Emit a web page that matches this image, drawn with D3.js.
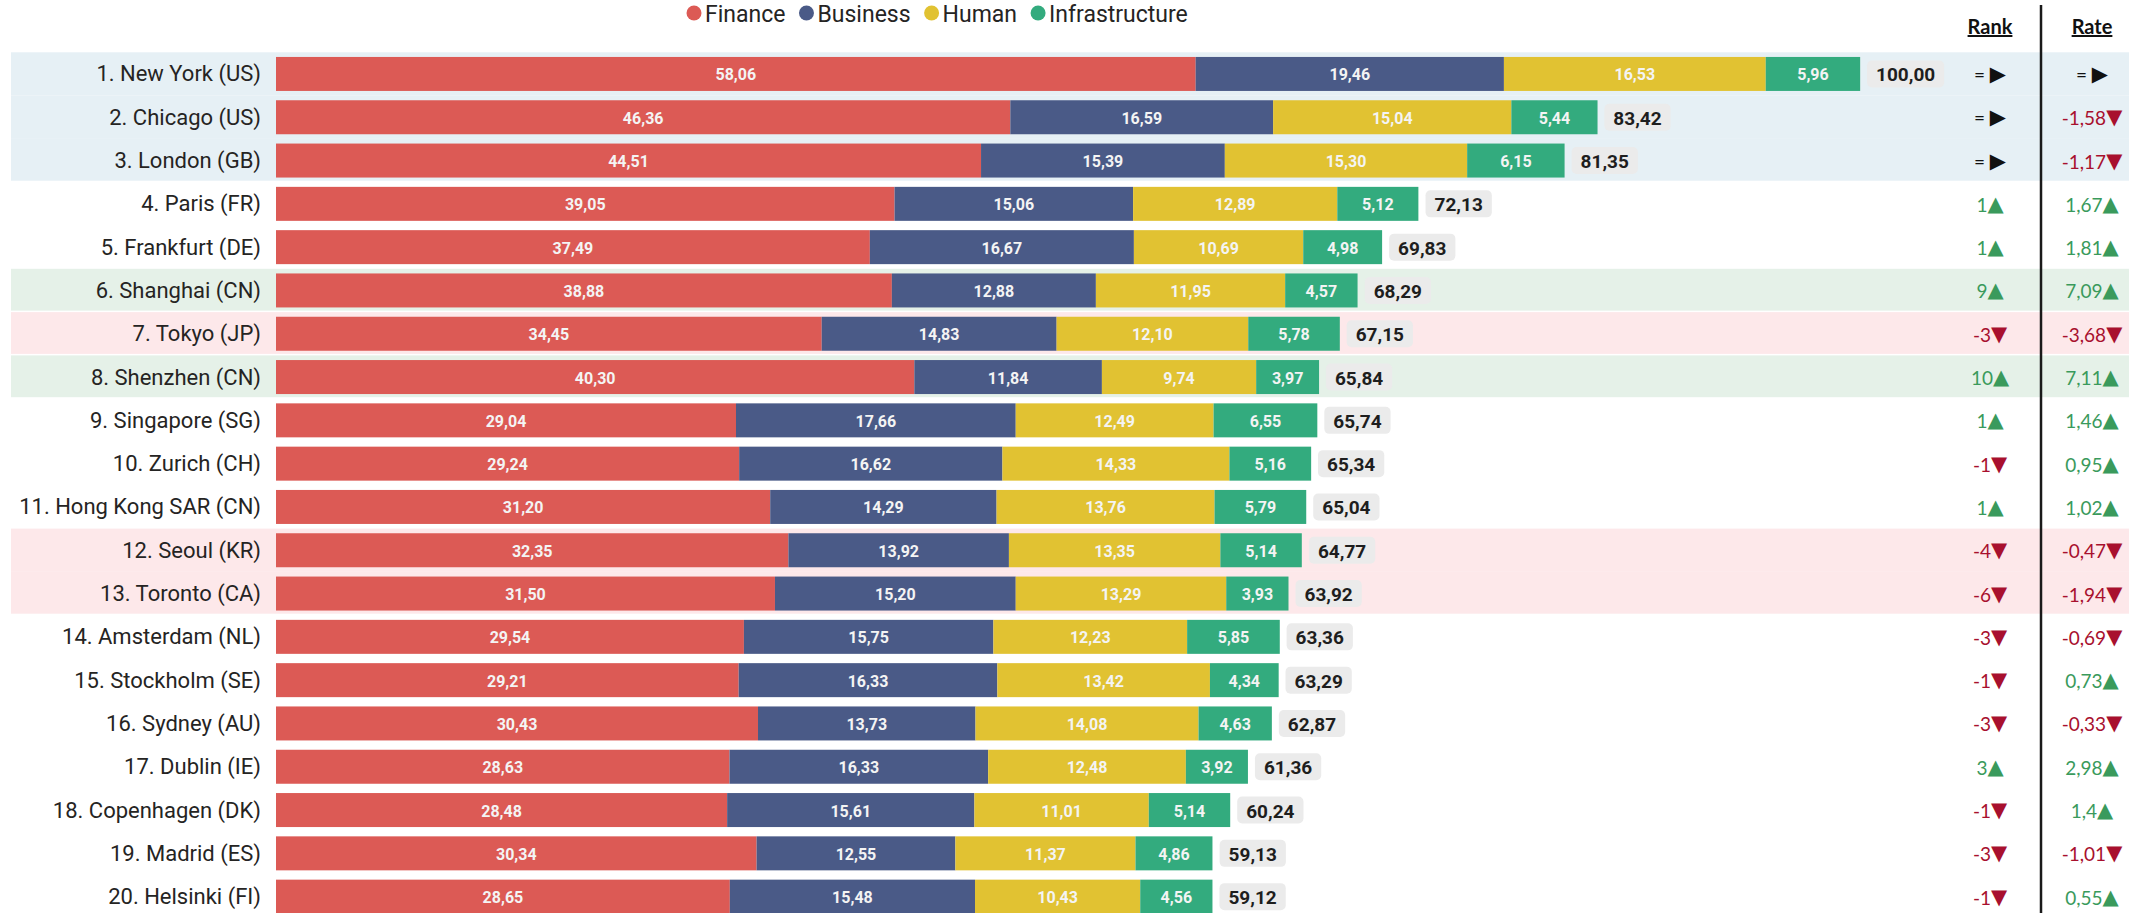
<!DOCTYPE html>
<html>
<head>
<meta charset="utf-8">
<script src="https://cdn.jsdelivr.net/npm/d3@7"></script>
<style>
  body { margin: 0; background: #fff; }
  svg { display: block; }
  .city { font-family: Roboto, sans-serif; font-size: 22px; fill: #252423; }
  .seg { font-family: Roboto, sans-serif; font-size: 16px; font-weight: 700; fill: #f4f4f4; }
  .total { font-family: Roboto, sans-serif; font-size: 19px; font-weight: 700; fill: #1e1e1e; }
  .legend { font-family: Roboto, sans-serif; font-size: 23px; fill: #252423; }
  .head { font-family: Lato, sans-serif; font-size: 20px; font-weight: 700; fill: #111; text-decoration: underline; }
  .chg { font-family: Lato, sans-serif; font-size: 19px; }
</style>
</head>
<body>
<div id="chart"></div>
<script>
var cities = ["1. New York (US)", "2. Chicago (US)", "3. London (GB)", "4. Paris (FR)", "5. Frankfurt (DE)",
  "6. Shanghai (CN)", "7. Tokyo (JP)", "8. Shenzhen (CN)", "9. Singapore (SG)", "10. Zurich (CH)",
  "11. Hong Kong SAR (CN)", "12. Seoul (KR)", "13. Toronto (CA)", "14. Amsterdam (NL)", "15. Stockholm (SE)",
  "16. Sydney (AU)", "17. Dublin (IE)", "18. Copenhagen (DK)", "19. Madrid (ES)", "20. Helsinki (FI)"];

var finance = [58.06, 46.36, 44.51, 39.05, 37.49, 38.88, 34.45, 40.30, 29.04, 29.24, 31.20, 32.35, 31.50, 29.54, 29.21, 30.43, 28.63, 28.48, 30.34, 28.65];
var business = [19.46, 16.59, 15.39, 15.06, 16.67, 12.88, 14.83, 11.84, 17.66, 16.62, 14.29, 13.92, 15.20, 15.75, 16.33, 13.73, 16.33, 15.61, 12.55, 15.48];
var human = [16.53, 15.04, 15.30, 12.89, 10.69, 11.95, 12.10, 9.74, 12.49, 14.33, 13.76, 13.35, 13.29, 12.23, 13.42, 14.08, 12.48, 11.01, 11.37, 10.43];
var infrastructure = [5.96, 5.44, 6.15, 5.12, 4.98, 4.57, 5.78, 3.97, 6.55, 5.16, 5.79, 5.14, 3.93, 5.85, 4.34, 4.63, 3.92, 5.14, 4.86, 4.56];
var totals = [100.00, 83.42, 81.35, 72.13, 69.83, 68.29, 67.15, 65.84, 65.74, 65.34, 65.04, 64.77, 63.92, 63.36, 63.29, 62.87, 61.36, 60.24, 59.13, 59.12];

// 0 = unchanged
var rankChange = [0, 0, 0, 1, 1, 9, -3, 10, 1, -1, 1, -4, -6, -3, -1, -3, 3, -1, -3, -1];
var rateChange = [0, -1.58, -1.17, 1.67, 1.81, 7.09, -3.68, 7.11, 1.46, 0.95, 1.02, -0.47, -1.94, -0.69, 0.73, -0.33, 2.98, 1.4, -1.01, 0.55];

// row highlight: top3 / up / down
var highlight = ["top", "top", "top", "", "", "up", "down", "up", "", "", "", "down", "down", "", "", "", "", "", "", ""];

var seriesNames = ["Finance", "Business", "Human", "Infrastructure"];
var seriesColors = ["#dc5a55", "#4a5a87", "#e1c232", "#33ab7e"];
var bandColors = { top: "#e6f0f5", up: "#e5f1e8", down: "#fde8ea" };

var W = 2129, H = 913;
var svg = d3.select("#chart").append("svg").attr("width", W).attr("height", H);

var loc = d3.formatLocale({ decimal: ",", thousands: ".", grouping: [3], currency: ["", ""] });
var f2 = loc.format(".2f");

var rows = cities.map(function(c, i) {
  return { city: c, vals: [finance[i], business[i], human[i], infrastructure[i]], total: totals[i],
           rank: rankChange[i], rate: rateChange[i], hl: highlight[i] };
});

var x = d3.scaleLinear().domain([0, 100]).range([276, 1860]);
var rowBand = d3.scaleBand().domain(cities).range([52.3, 52.3 + 43.3 * 20]);
var y = d3.scaleBand().domain(cities).range([52.3, 52.3 + 43.3 * 20]).paddingInner(0.215).paddingOuter(0.1075);
var color = d3.scaleOrdinal().domain(seriesNames).range(seriesColors);

// row backgrounds
svg.append("g").selectAll("rect")
  .data(rows.filter(function(d) { return d.hl; }))
  .enter().append("rect")
    .attr("x", 11)
    .attr("y", function(d) { return rowBand(d.city); })
    .attr("width", W - 11)
    .attr("height", function(d) {
      var i = cities.indexOf(d.city);
      var next = highlight[i + 1];
      return rowBand.bandwidth() - (next === d.hl ? 0 : 1.5);
    })
    .attr("fill", function(d) { return bandColors[d.hl]; });

// stacked bars
var stackData = rows.map(function(d) {
  var o = { city: d.city };
  seriesNames.forEach(function(s, k) { o[s] = d.vals[k]; });
  return o;
});
var stacked = d3.stack().keys(seriesNames)(stackData);

var layer = svg.append("g").selectAll("g")
  .data(stacked)
  .enter().append("g")
    .attr("fill", function(d) { return color(d.key); });

layer.selectAll("rect")
  .data(function(d) { return d; })
  .enter().append("rect")
    .attr("x", function(d) { return x(d[0]); })
    .attr("y", function(d) { return y(d.data.city); })
    .attr("width", function(d) { return x(d[1]) - x(d[0]); })
    .attr("height", y.bandwidth());

layer.selectAll("text")
  .data(function(d) { return d; })
  .enter().append("text")
    .attr("class", "seg")
    .attr("text-anchor", "middle")
    .attr("dominant-baseline", "central")
    .attr("x", function(d) { return (x(d[0]) + x(d[1])) / 2; })
    .attr("y", function(d) { return y(d.data.city) + y.bandwidth() / 2 + 1; })
    .text(function(d) { return f2(d[1] - d[0]); });

// city labels
svg.append("g").selectAll("text")
  .data(rows)
  .enter().append("text")
    .attr("class", "city")
    .attr("text-anchor", "end")
    .attr("dominant-baseline", "central")
    .attr("x", 261)
    .attr("y", function(d) { return y(d.city) + y.bandwidth() / 2; })
    .text(function(d) { return d.city; });

// totals in grey boxes
var tot = svg.append("g").selectAll("g")
  .data(rows)
  .enter().append("g")
    .attr("transform", function(d) {
      var cy = y(d.city) + y.bandwidth() / 2;
      return "translate(" + (x(d.total) + 7) + "," + cy + ")";
    });
tot.append("text")
  .attr("class", "total")
  .attr("x", 9)
  .attr("dominant-baseline", "central")
  .attr("y", 1)
  .text(function(d) { return f2(d.total); });
tot.insert("rect", "text")
  .attr("x", 0)
  .attr("y", -13.5)
  .attr("height", 27)
  .attr("rx", 5)
  .attr("fill", "#ebebeb")
  .attr("width", function() { return this.parentNode.querySelector("text").getComputedTextLength() + 18; });

// legend
var leg = svg.append("g");
var lx = 686;
seriesNames.forEach(function(s) {
  leg.append("circle").attr("cx", lx + 8).attr("cy", 13).attr("r", 7.5).attr("fill", color(s));
  var t = leg.append("text").attr("class", "legend").attr("x", lx + 19).attr("y", 22).text(s);
  lx += 19 + t.node().getComputedTextLength() + 13;
});

// rank and rate columns
svg.append("text").attr("class", "head").attr("x", 1990).attr("y", 34).attr("text-anchor", "middle").text("Rank");
svg.append("text").attr("class", "head").attr("x", 2092).attr("y", 34).attr("text-anchor", "middle").text("Rate");
svg.append("line").attr("x1", 2041).attr("x2", 2041).attr("y1", 5).attr("y2", H)
  .attr("stroke", "#1a1a1a").attr("stroke-width", 2.5);

function changeCell(cx, getVal, fmt) {
  var t = svg.append("g").selectAll("text")
    .data(rows)
    .enter().append("text")
      .attr("class", "chg")
      .attr("text-anchor", "middle")
      .attr("dominant-baseline", "central")
      .attr("x", cx)
      .attr("y", function(d) { return y(d.city) + y.bandwidth() / 2; })
      .attr("fill", function(d) { var v = getVal(d); return v === 0 ? "#111" : (v > 0 ? "#3a9a5c" : "#a8102e"); });
  t.append("tspan").text(function(d) { var v = getVal(d); return v === 0 ? "= " : fmt(v); });
  t.append("tspan")
    .attr("font-size", "21px")
    .attr("font-family", "DejaVu Sans, sans-serif")
    .text(function(d) { var v = getVal(d); return v === 0 ? "\u25B6" : (v > 0 ? "\u25B2" : "\u25BC"); });
}
changeCell(1990, function(d) { return d.rank; }, function(v) { return String(v); });
changeCell(2092, function(d) { return d.rate; }, function(v) { return String(v).replace(".", ","); });
</script>
</body>
</html>
